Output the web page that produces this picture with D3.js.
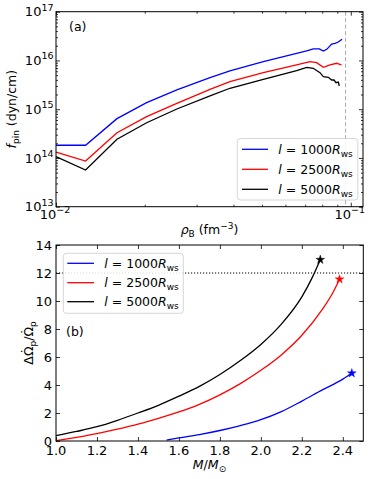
<!DOCTYPE html>
<html><head><meta charset="utf-8">
<script src="https://cdn.jsdelivr.net/npm/d3@7"></script>
<style>body{margin:0;background:#fff} text{font-family:"DejaVu Sans",sans-serif;fill:#000}</style>
</head><body><svg id="c" width="374" height="479"></svg>
<script>
// ---------- Panel (a) data ----------
const rhoBlue  = [0.01, 0.0126, 0.0161, 0.0203, 0.0257, 0.0333, 0.0389, 0.0505, 0.0655, 0.0709, 0.0746, 0.0782, 0.0807, 0.0829, 0.0861, 0.0884, 0.0907, 0.0934];
const fBlue    = [1.82e14, 1.82e14, 6.4e14, 1.36e15, 2.48e15, 4.43e15, 6.08e15, 9.42e15, 1.40e16, 1.58e16, 1.72e16, 1.73e16, 1.56e16, 1.69e16, 2.17e16, 2.25e16, 2.39e16, 2.72e16];
const rhoRed   = [0.01, 0.0126, 0.0161, 0.0203, 0.0257, 0.0333, 0.0389, 0.0505, 0.0655, 0.0727, 0.0766, 0.0807, 0.0850, 0.0896, 0.0931];
const fRed     = [1.31e14, 8.65e13, 3.30e14, 7.02e14, 1.32e15, 2.56e15, 3.66e15, 5.61e15, 8.07e15, 9.42e15, 8.99e15, 7.23e15, 8.07e15, 8.75e15, 8.07e15];
const rhoBlack = [0.01, 0.0126, 0.0161, 0.0203, 0.0257, 0.0333, 0.0389, 0.0505, 0.0655, 0.0709, 0.0746, 0.0786, 0.0807, 0.0839, 0.0861, 0.0877, 0.0891, 0.0907, 0.0914];
const fBlack   = [1.06e14, 5.66e13, 2.42e14, 5.28e14, 1.01e15, 1.87e15, 2.69e15, 4.10e15, 6.17e15, 7.23e15, 6.90e15, 5.61e15, 4.65e15, 4.51e15, 3.97e15, 3.97e15, 3.50e15, 3.61e15, 2.99e15];
const rhoDashed = 0.096;
const xMajorA = [0.01, 0.1];
const xMinorA = [0.02, 0.03, 0.04, 0.05, 0.06, 0.07, 0.08, 0.09];
const yExpA = [13, 14, 15, 16, 17];
const xLabelExpA = [-2, -1];

// ---------- Panel (b) data ----------
const mBlue   = [1.54, 1.6, 1.7, 1.8, 1.9, 2.0, 2.1, 2.2, 2.3, 2.4, 2.444];
const dBlue   = [0.06, 0.22, 0.46, 0.75, 1.1, 1.52, 2.1, 2.85, 3.65, 4.42, 4.84];
const mRed    = [1.0, 1.1, 1.2, 1.3, 1.4, 1.5, 1.6, 1.7, 1.8, 1.9, 2.0, 2.1, 2.2, 2.3, 2.35, 2.384];
const dRed    = [0.02, 0.26, 0.52, 0.84, 1.2, 1.62, 2.08, 2.62, 3.3, 4.1, 5.05, 6.15, 7.55, 9.4, 10.55, 11.55];
const mBlack  = [1.0, 1.1, 1.2, 1.3, 1.4, 1.5, 1.6, 1.7, 1.8, 1.9, 2.0, 2.1, 2.2, 2.25, 2.29];
const dBlack  = [0.38, 0.68, 1.02, 1.48, 2.0, 2.55, 3.2, 3.9, 4.75, 5.75, 6.9, 8.35, 10.3, 11.65, 12.95];
const hLineB = 12;
const xTicksB = [1.0, 1.2, 1.4, 1.6, 1.8, 2.0, 2.2, 2.4];
const yTicksB = [0, 2, 4, 6, 8, 10, 12, 14];

const legendLabels = ["1000", "2500", "5000"];
const colors = ["#0000ff", "#ff0000", "#000000"];

const svg = d3.select("#c");
const FS = 13;     // tick label size
const FL = 12.5;   // legend / axis label size

// ================= Panel (a) =================
const A = {l:56, r:363, t:11.7, b:206.7};
const xa = d3.scaleLog().domain([0.01, 0.11]).range([A.l, A.r]);
const ya = d3.scaleLog().domain([1e13, 1e17]).range([A.b, A.t]);
const yMinorA = [];
for (let e = 13; e < 17; e++) for (let k = 2; k <= 9; k++) yMinorA.push(k * Math.pow(10, e));

function ticks(g, axisFn, scale, vals, size, tr) {
  const s = g.append("g").attr("transform", tr)
    .call(axisFn(scale).tickValues(vals).tickSize(size).tickFormat(""));
  s.select(".domain").remove();
  s.selectAll(".tick line").attr("stroke", "#000").attr("stroke-width", 0.8);
}
const ga = svg.append("g");
ticks(ga, d3.axisBottom, xa, xMajorA, -4, `translate(0,${A.b})`);
ticks(ga, d3.axisBottom, xa, xMinorA, -2, `translate(0,${A.b})`);
ticks(ga, d3.axisTop, xa, xMajorA, -4, `translate(0,${A.t})`);
ticks(ga, d3.axisTop, xa, xMinorA, -2, `translate(0,${A.t})`);
const yMajA = yExpA.map(e => Math.pow(10, e));
ticks(ga, d3.axisLeft, ya, yMajA, -4, `translate(${A.l},0)`);
ticks(ga, d3.axisLeft, ya, yMinorA, -2, `translate(${A.l},0)`);
ticks(ga, d3.axisRight, ya, yMajA, -4, `translate(${A.r},0)`);
ticks(ga, d3.axisRight, ya, yMinorA, -2, `translate(${A.r},0)`);

ga.append("line").attr("x1", xa(rhoDashed)).attr("x2", xa(rhoDashed))
  .attr("y1", ya(1e17)).attr("y2", ya(1e13))
  .attr("stroke", "#aaaaaa").attr("stroke-width", 1).attr("stroke-dasharray", "4,2.5");

const lineA = d3.line().x(d => xa(d[0])).y(d => ya(d[1]));
const seriesA = [[rhoBlue, fBlue], [rhoRed, fRed], [rhoBlack, fBlack]];
seriesA.forEach((s, i) => {
  ga.append("path").datum(d3.zip(s[0], s[1])).attr("d", lineA)
    .attr("fill", "none").attr("stroke", colors[i]).attr("stroke-width", 1.3);
});

yExpA.forEach(e => {
  const t = ga.append("text").attr("x", A.l - 2.5).attr("y", ya(Math.pow(10, e)) + 4.7)
    .attr("text-anchor", "end").attr("font-size", FS);
  t.append("tspan").text("10");
  t.append("tspan").attr("font-size", 9.5).attr("dy", -5.8).text(String(e));
});
xLabelExpA.forEach(e => {
  const t = ga.append("text").attr("x", xa(Math.pow(10, e)) - 1).attr("y", 219)
    .attr("text-anchor", "middle").attr("font-size", FS);
  t.append("tspan").text("10");
  t.append("tspan").attr("font-size", 9.5).attr("dy", -5.8).text("\u2212" + Math.abs(e));
});

ga.append("rect").attr("x", A.l).attr("y", A.t).attr("width", A.r - A.l).attr("height", A.b - A.t)
  .attr("fill", "none").attr("stroke", "#000").attr("stroke-width", 1);

ga.append("text").attr("x", 69).attr("y", 31).attr("font-size", FL).text("(a)");

{
  const t = ga.append("text").attr("x", 209.5).attr("y", 234).attr("text-anchor", "middle").attr("font-size", FL);
  t.append("tspan").attr("font-style", "italic").text("\u03c1");
  t.append("tspan").attr("font-size", 9).attr("dy", 3).text("B");
  t.append("tspan").attr("dy", -3).text(" (fm");
  t.append("tspan").attr("font-size", 9).attr("dy", -5.5).text("\u22123");
  t.append("tspan").attr("dy", 5.5).text(")");
}
{
  const cy = (A.t + A.b) / 2;
  const t = ga.append("text").attr("transform", `translate(16,${cy}) rotate(-90)`)
    .attr("text-anchor", "middle").attr("font-size", FL);
  t.append("tspan").attr("font-style", "italic").text("f");
  t.append("tspan").attr("font-size", 9).attr("dy", 3).text("pin");
  t.append("tspan").attr("dy", -3).text(" (dyn/cm)");
}

function legend(g, bx, by, bw, bh, rows, lx1, lx2, tx) {
  g.append("rect").attr("x", bx).attr("y", by).attr("width", bw).attr("height", bh)
    .attr("rx", 3).attr("fill", "#fff").attr("fill-opacity", 0.85)
    .attr("stroke", "#cccccc").attr("stroke-width", 0.8);
  legendLabels.forEach((lab, i) => {
    g.append("line").attr("x1", lx1).attr("x2", lx2).attr("y1", rows[i]).attr("y2", rows[i])
      .attr("stroke", colors[i]).attr("stroke-width", 1.3);
    const t = g.append("text").attr("x", tx).attr("y", rows[i] + 4.5).attr("font-size", FL);
    t.append("tspan").attr("font-style", "italic").text("l");
    t.append("tspan").text(" = " + lab);
    t.append("tspan").attr("font-style", "italic").text("R");
    t.append("tspan").attr("font-size", 9).attr("dy", 3).text("ws");
  });
}
legend(ga, 237.3, 138.5, 120.5, 61.5, [149.3, 169.3, 189.3], 242, 268, 278.3);

// ================= Panel (b) =================
const B = {l:56, r:363.3, t:245, b:441};
const xb = d3.scaleLinear().domain([1.0, 2.5]).range([B.l, B.r]);
const yb = d3.scaleLinear().domain([0, 14]).range([B.b, B.t]);
const gb = svg.append("g");
ticks(gb, d3.axisBottom, xb, xTicksB, -4, `translate(0,${B.b})`);
ticks(gb, d3.axisTop, xb, xTicksB, -4, `translate(0,${B.t})`);
ticks(gb, d3.axisLeft, yb, yTicksB, -4, `translate(${B.l},0)`);
ticks(gb, d3.axisRight, yb, yTicksB, -4, `translate(${B.r},0)`);

gb.append("line").attr("x1", B.l).attr("x2", B.r).attr("y1", yb(hLineB)).attr("y2", yb(hLineB))
  .attr("stroke", "#000").attr("stroke-width", 1).attr("stroke-dasharray", "1.2,1.8");

const lineB = d3.line().curve(d3.curveMonotoneX).x(d => xb(d[0])).y(d => yb(d[1]));
const seriesB = [[mBlue, dBlue], [mRed, dRed], [mBlack, dBlack]];
seriesB.forEach((s, i) => {
  gb.append("path").datum(d3.zip(s[0], s[1])).attr("d", lineB)
    .attr("fill", "none").attr("stroke", colors[i]).attr("stroke-width", 1.3);
  const n = s[0].length - 1;
  gb.append("path").attr("d", d3.symbol().type(d3.symbolStar).size(24)())
    .attr("transform", `translate(${xb(s[0][n])},${yb(s[1][n])})`)
    .attr("fill", colors[i]).attr("stroke", colors[i]).attr("stroke-width", 0.4);
});

yTicksB.forEach(v => {
  gb.append("text").attr("x", B.l - 4).attr("y", yb(v) + 4.7).attr("text-anchor", "end")
    .attr("font-size", FS).text(String(v));
});
xTicksB.forEach(v => {
  gb.append("text").attr("x", xb(v)).attr("y", 455).attr("text-anchor", "middle")
    .attr("font-size", FS).text(v.toFixed(1));
});

gb.append("rect").attr("x", B.l).attr("y", B.t).attr("width", B.r - B.l).attr("height", B.b - B.t)
  .attr("fill", "none").attr("stroke", "#000").attr("stroke-width", 1);

legend(gb, 63.3, 253.3, 120, 60, [263.3, 282.7, 301.7], 67.3, 94, 104.3);

gb.append("text").attr("x", 66).attr("y", 336).attr("font-size", FL).text("(b)");

{
  const t = gb.append("text").attr("x", 209.5).attr("y", 469).attr("text-anchor", "middle").attr("font-size", FL);
  t.append("tspan").attr("font-style", "italic").text("M");
  t.append("tspan").text("/");
  t.append("tspan").attr("font-style", "italic").text("M");
  t.append("tspan").attr("font-size", 9).attr("dy", 3).text("\u2299");
}
{
  const cy = (B.t + B.b) / 2;
  const em = FL;
  const t = gb.append("text").attr("transform", `translate(33,${cy}) rotate(-90)`)
    .attr("text-anchor", "middle").attr("font-size", FL);
  t.append("tspan").text("\u0394\u03a9");
  t.append("tspan").attr("dx", -0.632 * em).attr("dy", -2.6).text("\u02d9");
  t.append("tspan").attr("font-size", 9).attr("dx", 0.132 * em).attr("dy", 5.6).text("p");
  t.append("tspan").attr("dy", -3).text("/\u03a9");
  t.append("tspan").attr("dx", -0.632 * em).attr("dy", -2.6).text("\u02d9");
  t.append("tspan").attr("font-size", 9).attr("dx", 0.132 * em).attr("dy", 5.6).text("p");
}
</script></body></html>
